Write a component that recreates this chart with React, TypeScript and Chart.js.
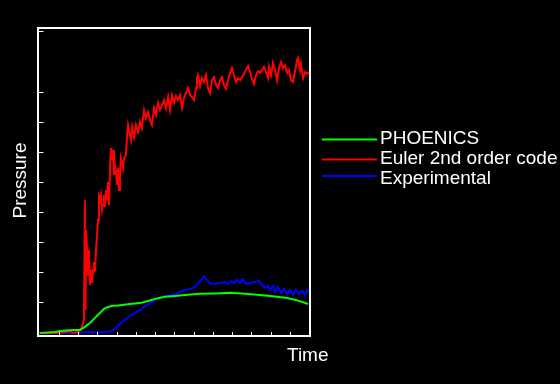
import React, { useEffect, useRef } from "react";
import { Chart, registerables } from "chart.js";

Chart.register(...registerables);

const seriesNames = ["PHOENICS", "Euler 2nd order code", "Experimental"];
const seriesColors = ["#00ff00", "#ff0000", "#0000ff"];

const eulerT = [0, 0.8, 1.32, 1.58, 1.74, 2.0, 2.1, 2.21, 2.31, 2.36, 2.39, 2.42, 2.47, 2.52, 2.57, 2.62, 2.68, 2.73, 2.78, 2.83, 2.88, 2.94, 2.99, 3.04, 3.09, 3.14, 3.19, 3.25, 3.3, 3.35, 3.4, 3.45, 3.51, 3.56, 3.61, 3.66, 3.71, 3.77, 3.82, 3.87, 3.92, 3.97, 4.03, 4.08, 4.13, 4.18, 4.23, 4.29, 4.34, 4.39, 4.49, 4.55, 4.6, 4.65, 4.75, 4.81, 4.91, 5.01, 5.12, 5.22, 5.32, 5.43, 5.53, 5.64, 5.74, 5.84, 5.95, 6.05, 6.16, 6.26, 6.36, 6.47, 6.57, 6.68, 6.78, 6.88, 6.99, 7.09, 7.19, 7.3, 7.4, 7.51, 7.61, 7.71, 7.82, 7.92, 8.03, 8.13, 8.18, 8.23, 8.34, 8.44, 8.55, 8.65, 8.75, 8.86, 8.96, 9.06, 9.17, 9.27, 9.38, 9.48, 9.58, 9.69, 9.79, 9.9, 10.0, 10.1, 10.21, 10.31, 10.42, 10.52, 10.62, 10.73, 10.83, 10.94, 11.04, 11.14, 11.25, 11.35, 11.45, 11.56, 11.66, 11.77, 11.87, 11.92, 12.03, 12.13, 12.23, 12.34, 12.44, 12.55, 12.65, 12.75, 12.86, 12.96, 13.06, 13.17, 13.27, 13.38, 13.43, 13.53, 13.58, 13.69, 13.79, 13.9, 14.0];
const eulerV = [-0.02, -0.02, 0.01, 0.04, -0.02, 0.01, 0.05, 0.18, 0.41, 4.39, 0.74, 3.4, 2.74, 1.91, 2.74, 1.57, 2.07, 1.64, 2.07, 2.34, 2.01, 2.8, 3.23, 3.73, 4.5, 4.4, 4.56, 4.07, 4.23, 4.56, 4.17, 4.73, 4.4, 5.0, 4.23, 5.39, 6.12, 5.72, 6.06, 5.23, 5.56, 5.33, 4.9, 5.46, 4.73, 5.23, 5.79, 5.63, 5.46, 5.79, 5.89, 6.56, 6.89, 6.72, 6.39, 6.82, 6.49, 6.89, 6.66, 6.99, 6.79, 7.38, 7.12, 7.32, 7.05, 6.89, 7.45, 7.22, 7.62, 7.39, 7.55, 7.72, 7.45, 7.82, 7.39, 7.88, 7.62, 7.85, 7.72, 7.88, 7.45, 7.79, 7.95, 8.12, 7.88, 7.82, 7.72, 8.12, 8.45, 8.55, 8.18, 8.45, 8.32, 8.55, 8.12, 7.95, 8.38, 8.48, 8.22, 8.12, 8.38, 8.48, 8.22, 8.09, 8.38, 8.62, 8.78, 8.55, 8.32, 8.45, 8.38, 8.48, 8.58, 8.72, 8.85, 8.65, 8.42, 8.25, 8.55, 8.68, 8.62, 8.72, 8.82, 8.65, 8.45, 8.82, 8.55, 8.95, 8.72, 8.38, 8.78, 8.98, 8.78, 8.88, 8.62, 8.72, 8.38, 8.32, 8.65, 9.05, 9.12, 8.72, 8.92, 8.45, 8.65, 8.58, 8.65];

const phoenicsT = [0, 0.8, 1.06, 1.74, 2.1, 2.36, 2.62, 2.88, 3.14, 3.35, 3.56, 3.82, 4.08, 4.7, 5.22, 5.64, 6.0, 6.52, 7.04, 7.56, 8.34, 9.12, 9.9, 10.68, 11.45, 12.23, 12.86, 13.27, 13.64, 13.95];
const phoenicsV = [-0.02, 0.01, 0.04, 0.08, 0.08, 0.18, 0.31, 0.48, 0.64, 0.78, 0.84, 0.88, 0.89, 0.94, 0.97, 1.04, 1.11, 1.18, 1.21, 1.24, 1.28, 1.29, 1.31, 1.28, 1.24, 1.19, 1.14, 1.08, 1.01, 0.94];

const experimentalT = [0, 1.84, 2.36, 3.14, 3.56, 3.77, 3.97, 4.18, 4.44, 4.7, 4.96, 5.22, 5.48, 5.74, 6.0, 6.26, 6.52, 6.78, 7.04, 7.3, 7.56, 7.82, 8.08, 8.23, 8.39, 8.55, 8.7, 8.86, 9.12, 9.38, 9.64, 9.79, 9.95, 10.1, 10.26, 10.42, 10.57, 10.73, 10.94, 11.19, 11.4, 11.56, 11.71, 11.87, 11.97, 12.13, 12.23, 12.39, 12.55, 12.7, 12.86, 13.01, 13.17, 13.32, 13.48, 13.64, 13.79, 13.9, 14.0];
const experimentalV = [-0.02, -0.02, 0, 0, 0.01, 0.05, 0.15, 0.28, 0.41, 0.54, 0.64, 0.74, 0.87, 0.97, 1.08, 1.14, 1.21, 1.24, 1.27, 1.34, 1.41, 1.44, 1.51, 1.61, 1.74, 1.84, 1.74, 1.61, 1.61, 1.64, 1.67, 1.61, 1.71, 1.64, 1.74, 1.64, 1.77, 1.61, 1.64, 1.67, 1.71, 1.57, 1.48, 1.54, 1.41, 1.54, 1.34, 1.51, 1.31, 1.44, 1.27, 1.41, 1.24, 1.41, 1.27, 1.37, 1.24, 1.41, 1.34];

const xTickValues = [1, 2, 3, 4, 5, 6, 7, 8, 9, 10, 11, 12, 13];
const yTickValues = [1, 2, 3, 4, 5, 6, 7, 8, 10];
const xTitle = "Time";
const yTitle = "Pressure";

const FONT = "19px 'Liberation Sans', Arial, sans-serif";

const toPoints = (t: number[], v: number[]) => t.map((x, i) => ({ x, y: v[i] }));

export default function App() {
  const ref = useRef<HTMLCanvasElement | null>(null);

  useEffect(() => {
    if (!ref.current) return;
    const decor = {
      id: "decor",
      beforeDraw(chart: any) {
        const ctx = chart.ctx;
        ctx.save();
        ctx.fillStyle = "#000000";
        ctx.fillRect(0, 0, chart.width, chart.height);
        ctx.restore();
      },
      afterDraw(chart: any) {
        const ctx = chart.ctx;
        const xs = chart.scales.x;
        const ys = chart.scales.y;
        const a = chart.chartArea;
        ctx.save();
        ctx.strokeStyle = "#ffffff";
        ctx.lineWidth = 2;
        ctx.strokeRect(38, 28, 272, 308);
        ctx.lineWidth = 1;
        ctx.beginPath();
        xTickValues.forEach((v) => {
          const px = Math.round(xs.getPixelForValue(v)) + 0.5;
          ctx.moveTo(px, a.bottom);
          ctx.lineTo(px, a.bottom - 3);
        });
        yTickValues.forEach((v) => {
          const py = Math.round(ys.getPixelForValue(v)) + 0.5;
          ctx.moveTo(a.left - 1, py);
          ctx.lineTo(a.left + 4, py);
        });
        ctx.stroke();

        ctx.fillStyle = "#ffffff";
        ctx.font = FONT;
        ctx.textBaseline = "alphabetic";
        ctx.textAlign = "left";
        ctx.fillText(xTitle, 287, 361);
        ctx.save();
        ctx.translate(25.5, 180.5);
        ctx.rotate(-Math.PI / 2);
        ctx.textAlign = "center";
        ctx.fillText(yTitle, 0, 0);
        ctx.restore();

        const lineYs = [139.5, 159.5, 176];
        const textYs = [144, 164, 184];
        seriesNames.forEach((name, i) => {
          ctx.strokeStyle = seriesColors[i];
          ctx.lineWidth = 2;
          ctx.beginPath();
          ctx.moveTo(322, lineYs[i]);
          ctx.lineTo(377, lineYs[i]);
          ctx.stroke();
          ctx.fillStyle = "#ffffff";
          ctx.textAlign = "left";
          ctx.fillText(name, 380, textYs[i]);
        });
        ctx.restore();
      },
    };

    const chart = new Chart(ref.current, {
      type: "line",
      data: {
        datasets: [
          { label: seriesNames[0], data: toPoints(phoenicsT, phoenicsV), borderColor: seriesColors[0], borderWidth: 2, pointRadius: 0, tension: 0 },
          { label: seriesNames[1], data: toPoints(eulerT, eulerV), borderColor: seriesColors[1], borderWidth: 2, pointRadius: 0, tension: 0 },
          { label: seriesNames[2], data: toPoints(experimentalT, experimentalV), borderColor: seriesColors[2], borderWidth: 2, pointRadius: 0, tension: 0 },
        ],
      },
      options: {
        responsive: false,
        animation: false,
        devicePixelRatio: 1,
        layout: { padding: { left: 39.5, top: 29, right: 251, bottom: 49 } },
        plugins: { legend: { display: false }, tooltip: { enabled: false } },
        scales: {
          x: { type: "linear", min: 0, max: 14, display: false },
          y: { type: "linear", min: -0.09, max: 10.08, display: false },
        },
      },
      plugins: [decor],
    } as any);
    return () => chart.destroy();
  }, []);

  return (
    <canvas
      ref={ref}
      width={560}
      height={384}
      style={{ position: "absolute", left: 0, top: 0, width: 560, height: 384 }}
    />
  );
}
